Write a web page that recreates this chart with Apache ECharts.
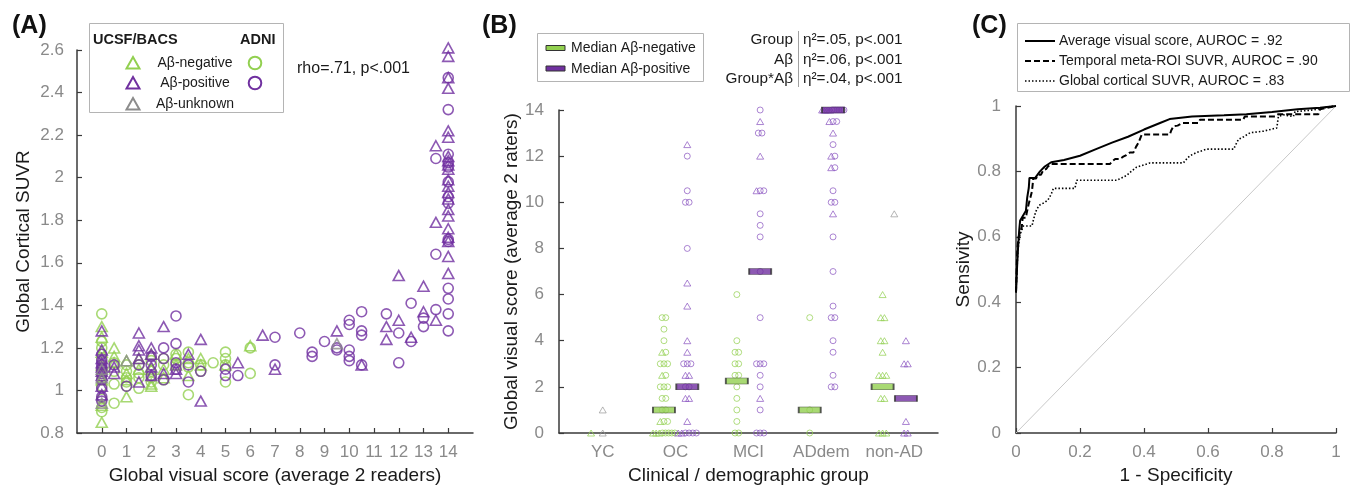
<!DOCTYPE html>
<html><head><meta charset="utf-8">
<script src="https://cdn.jsdelivr.net/npm/echarts@6/dist/echarts.min.js"></script>
<style>html,body{margin:0;padding:0;background:#fff}#c{width:1351px;height:490px}</style>
</head><body><div id="c"></div>
<script>
// ================= DATA =================
// Panel A: [visual score, global cortical SUVR]
const aXTicks = [0,1,2,3,4,5,6,7,8,9,10,11,12,13,14];
const aNegTri = [[0,1.30],[0,1.25],[0,1.18],[0,1.12],[0,1.05],[0,0.93],[0,0.85],[0.5,1.20],[0.5,1.16],[0.5,1.13],[1,1.14],[1,1.08],[1,1.05],[1,0.97],[1.5,1.15],[1.5,1.10],[2,1.17],[2,1.10],[2,1.03],[2,1.02],[2.5,1.10],[2.5,1.06],[3,1.17],[3,1.12],[3.5,1.15],[3.5,1.07],[4,1.15],[4,1.12],[5,1.12],[6,1.21]];
const aNegCirc = [[0,1.36],[0,1.23],[0,1.20],[0,1.15],[0,1.10],[0,1.07],[0,1.02],[0,0.96],[0,0.92],[0,0.90],[0.5,1.13],[0.5,1.09],[0.5,1.03],[0.5,0.94],[1,1.12],[1,1.09],[1,1.06],[1,1.04],[1,1.02],[1.5,1.12],[1.5,1.08],[1.5,1.06],[1.5,1.01],[2,1.14],[2,1.09],[2,1.06],[2,1.04],[2.5,1.15],[2.5,1.12],[2.5,1.05],[3,1.17],[3,1.15],[3,1.12],[3.5,1.18],[3.5,1.13],[3.5,1.11],[3.5,0.98],[4,1.12],[4,1.09],[4.5,1.13],[5,1.18],[5,1.15],[5,1.12],[5,1.04],[6,1.20],[6,1.08]];
const aPosTri = [[0,1.28],[0,1.19],[0,1.15],[0,1.13],[0,1.11],[0,1.09],[0,1.07],[0,1.02],[0,0.98],[0.5,1.11],[0.5,1.08],[1.5,1.27],[1.5,1.21],[1.5,1.19],[1.5,1.15],[1.5,1.04],[2,1.20],[2,1.17],[2,1.11],[2,1.07],[2.5,1.30],[2.5,1.08],[3,1.10],[3,1.08],[3.5,1.17],[4,1.24],[4,0.95],[5.5,1.13],[6.5,1.26],[7,1.10],[9.5,1.28],[10.5,1.12],[11.5,1.30],[11.5,1.24],[12,1.54],[12,1.33],[12.5,1.25],[13,1.49],[13,1.37],[13.5,2.15],[13.5,1.79],[13.5,1.33],[14,2.61],[14,2.57],[14,2.47],[14,2.42],[14,2.22],[14,2.19],[14,2.10],[14,2.08],[14,2.06],[14,2.04],[14,1.99],[14,1.96],[14,1.93],[14,1.90],[14,1.85],[14,1.82],[14,1.76],[14,1.72],[14,1.70],[14,1.63],[14,1.55]];
const aPosCirc = [[0,1.17],[0,1.14],[0,1.12],[0,1.10],[0,1.08],[0,1.05],[0,1.01],[0,0.97],[0,0.95],[0.5,1.12],[1,1.02],[1.5,1.12],[2,1.16],[2,1.12],[2,1.07],[2.5,1.20],[2.5,1.15],[2.5,1.05],[3,1.35],[3,1.22],[3,1.13],[3,1.10],[3.5,1.12],[3.5,1.04],[4,1.09],[5,1.10],[5,1.07],[5.5,1.07],[7,1.25],[7,1.12],[8,1.27],[8.5,1.18],[8.5,1.16],[9,1.23],[9.5,1.20],[9.5,1.19],[10,1.33],[10,1.31],[10,1.19],[10,1.16],[10,1.14],[10.5,1.37],[10.5,1.28],[10.5,1.26],[10.5,1.12],[11.5,1.36],[12,1.27],[12,1.13],[12.5,1.41],[12.5,1.23],[13,1.34],[13,1.30],[13.5,2.09],[13.5,1.64],[13.5,1.38],[14,2.47],[14,2.32],[14,2.11],[14,2.07],[14,2.05],[14,1.98],[14,1.91],[14,1.88],[14,1.71],[14,1.70],[14,1.48],[14,1.43],[14,1.36],[14,1.28]];
const aUnkTri = [[0,1.10],[0,1.06],[0,0.94],[1,1.14],[9.5,1.22]];

// Panel B: [group number (1..5), visual score]
const bCats = ['YC','OC','MCI','ADdem','non-AD'];
const bCatPos = [1,2,3,4,5];
const bNegTri = [[1,0],[2,3.5],[2,2.5],[2,0.5],[2,0],[2,0],[2,0],[5,6],[5,5],[5,5],[5,4],[5,4],[5,3.5],[5,2.5],[5,2.5],[5,2.5],[5,1.5],[5,1.5],[5,0],[5,0],[5,0]];
const bNegCirc = [[2,5],[2,5],[2,4.5],[2,4],[2,3.5],[2,3],[2,3],[2,3],[2,2.5],[2,2],[2,2],[2,2],[2,1.5],[2,1.5],[2,1],[2,1],[2,0.5],[2,0.5],[2,0],[2,0],[2,0],[2,0],[2,0],[3,6],[3,4],[3,3.5],[3,3.5],[3,3],[3,3],[3,2.5],[3,2.5],[3,2],[3,1.5],[3,1],[3,0.5],[3,0],[3,0],[4,5],[4,1],[4,0]];
const bPosTri = [[2,12.5],[2,6.5],[2,5.5],[2,4],[2,3.5],[2,2.5],[2,2.5],[2,1.5],[2,1.5],[2,0.5],[2,0],[2,0],[3,13.5],[3,12],[3,10.5],[3,1.5],[4,14],[4,14],[4,14],[4,14],[4,14],[4,14],[4,13.5],[4,13],[4,12],[4,11.5],[4,9.5],[5,4],[5,3],[5,3],[5,0.5],[5,0],[5,0]];
const bPosCirc = [[2,12],[2,10.5],[2,10],[2,10],[2,8],[2,3],[2,3],[2,3],[2,2],[2,2],[2,0],[2,0],[2,0],[2,0],[3,14],[3,13],[3,13],[3,10.5],[3,10.5],[3,9.5],[3,9],[3,8.5],[3,7],[3,5],[3,3],[3,3],[3,3],[3,2.5],[3,2],[3,1],[3,0],[3,0],[3,0],[4,14],[4,14],[4,14],[4,14],[4,14],[4,14],[4,14],[4,14],[4,13.5],[4,13.5],[4,12.5],[4,12],[4,11.5],[4,10.5],[4,10],[4,10],[4,8.5],[4,7],[4,5.5],[4,5],[4,5],[4,4],[4,3.5],[4,2.5],[4,2],[4,2]];
const bUnkTri = [[1,1],[1,0],[5,9.5]];
const bMedNeg = [null,1,2.25,1,2];
const bMedPos = [null,2,7,14,1.5];

// Panel C: ROC curves [1 - specificity, sensitivity]
const rocVisual = [[0,0.43],[0.003,0.5],[0.006,0.56],[0.01,0.62],[0.013,0.65],[0.025,0.67],[0.031,0.68],[0.035,0.72],[0.04,0.75],[0.042,0.78],[0.06,0.78],[0.075,0.8],[0.09,0.815],[0.11,0.828],[0.15,0.835],[0.2,0.848],[0.25,0.868],[0.3,0.888],[0.35,0.906],[0.4,0.928],[0.45,0.948],[0.48,0.96],[0.55,0.968],[0.65,0.972],[0.72,0.975],[0.8,0.982],[0.88,0.99],[0.95,0.995],[1,1]];
const rocTemporal = [[0,0.43],[0.002,0.5],[0.004,0.56],[0.008,0.6],[0.015,0.62],[0.018,0.63],[0.021,0.658],[0.031,0.658],[0.033,0.67],[0.039,0.698],[0.045,0.72],[0.05,0.74],[0.054,0.778],[0.062,0.778],[0.07,0.79],[0.078,0.79],[0.085,0.803],[0.095,0.808],[0.1,0.815],[0.11,0.823],[0.294,0.823],[0.3,0.83],[0.31,0.838],[0.325,0.838],[0.335,0.845],[0.345,0.85],[0.356,0.858],[0.367,0.858],[0.375,0.875],[0.383,0.888],[0.393,0.913],[0.481,0.913],[0.485,0.925],[0.492,0.938],[0.505,0.94],[0.52,0.948],[0.57,0.948],[0.575,0.958],[0.71,0.958],[0.715,0.968],[0.81,0.968],[0.82,0.975],[0.945,0.975],[0.95,0.99],[1,1]];
const rocGlobal = [[0,0.43],[0.003,0.5],[0.006,0.56],[0.0125,0.607],[0.018,0.62],[0.023,0.633],[0.05,0.633],[0.054,0.65],[0.059,0.668],[0.065,0.685],[0.075,0.698],[0.09,0.705],[0.1,0.713],[0.11,0.73],[0.117,0.748],[0.184,0.748],[0.19,0.773],[0.315,0.773],[0.33,0.78],[0.346,0.788],[0.36,0.8],[0.377,0.813],[0.4,0.82],[0.419,0.826],[0.523,0.826],[0.535,0.84],[0.544,0.848],[0.565,0.858],[0.596,0.868],[0.68,0.868],[0.695,0.898],[0.71,0.905],[0.731,0.918],[0.773,0.923],[0.815,0.933],[0.82,0.968],[0.836,0.973],[0.867,0.968],[0.872,0.983],[0.93,0.988],[0.98,0.998],[1,1]];
const rocChance = [[0,0],[1,1]];

// ================= STYLE =================
const FONT = '"Liberation Sans", Arial, sans-serif';
const GREEN = '#92d050', PURPLE = '#7030a0', GRAY = '#8c8c8c';
const AXC = '#3a3a3a', LABC = '#8a8a8a', NAMEC = '#1a1a1a';

function axisBase(extra) {
  return Object.assign({
    type: 'value',
    axisLine: { show: true, onZero: false, lineStyle: { color: AXC, width: 1.5 } },
    axisTick: { show: true, inside: true, length: 5, lineStyle: { color: AXC, width: 1.2 } },
    axisLabel: { color: LABC, fontSize: 17, fontFamily: FONT, margin: 12 },
    splitLine: { show: false },
    nameLocation: 'middle',
    nameTextStyle: { color: NAMEC, fontSize: 19, fontFamily: FONT }
  }, extra);
}

function hollow(name, data, sym, size, color, bw, xi, z) {
  return { type: 'scatter', name, data, symbol: sym, symbolSize: size, clip: false,
    xAxisIndex: xi, yAxisIndex: xi, z: z || 2, silent: true,
    itemStyle: { color: 'rgba(0,0,0,0)', borderColor: color, borderWidth: bw } };
}

// jitter points sharing the same (group, value) within one side of a group
function jitterSide(lists, side) {
  const groups = {};
  lists.forEach((d, si) => d.forEach((p, pi) => {
    const k = p[0] + '|' + p[1];
    (groups[k] = groups[k] || []).push([si, pi]);
  }));
  const out = lists.map(d => d.map(() => null));
  Object.keys(groups).forEach(k => {
    const list = groups[k], n = list.length;
    const step = n > 1 ? Math.min(0.05, 0.3 / (n - 1)) : 0;
    list.forEach((ref, i) => {
      const p = lists[ref[0]][ref[1]];
      out[ref[0]][ref[1]] = [p[0] + side + (i - (n - 1) / 2) * step, p[1]];
    });
  });
  return out;
}
const SIDE = 0.16;
const [jNegTri, jNegCirc] = jitterSide([bNegTri, bNegCirc], -SIDE);
const [jPosTri, jPosCirc] = jitterSide([bPosTri, bPosCirc], SIDE);
const [jUnkTri] = jitterSide([bUnkTri], 0);
const medNeg = [], medPos = [];
bCatPos.forEach((g, i) => {
  if (bMedNeg[i] != null) medNeg.push([g - SIDE, bMedNeg[i]]);
  if (bMedPos[i] != null) medPos.push([g + SIDE, bMedPos[i]]);
});

// ================= GRAPHICS (legends, annotations) =================
function txt(text, x, y, size, opts) {
  opts = opts || {};
  return { type: 'text', x, y, silent: true, z: 100, style: {
    text, fontSize: size, fontFamily: FONT, fontWeight: opts.bold ? 'bold' : 'normal',
    fill: opts.color || NAMEC, textAlign: opts.align || 'left', align: opts.align || 'left',
    textVerticalAlign: 'middle', verticalAlign: 'middle' } };
}
function tri(cx, cy, color) {
  return { type: 'polygon', silent: true, z: 100, shape: { points: [[cx - 6.5, cy + 5.5], [cx + 6.5, cy + 5.5], [cx, cy - 6]] },
    style: { fill: 'none', stroke: color, lineWidth: 2 } };
}
function circ(cx, cy, color) {
  return { type: 'circle', silent: true, z: 100, shape: { cx, cy, r: 6.3 }, style: { fill: 'none', stroke: color, lineWidth: 2 } };
}
function box(x, y, w, h) {
  return { type: 'rect', silent: true, z: 99, shape: { x, y, width: w, height: h }, style: { fill: '#fff', stroke: '#b4b4b4', lineWidth: 1 } };
}
function seg(x1, y1, x2, y2, color, w, dash) {
  return { type: 'line', silent: true, z: 100, shape: { x1, y1, x2, y2 }, style: { stroke: color, lineWidth: w, lineDash: dash || null } };
}

const graphics = [
  txt('(A)', 12, 26, 25, { bold: true, color: '#111' }),
  txt('(B)', 482, 26, 25, { bold: true, color: '#111' }),
  txt('(C)', 972, 26, 25, { bold: true, color: '#111' }),
  // legend A
  box(89.5, 23.5, 194, 89),
  txt('UCSF/BACS', 93, 40, 14.5, { bold: true }),
  txt('ADNI', 240, 40, 14.5, { bold: true }),
  tri(133, 63, GREEN), txt('A\u03b2-negative', 195, 63, 14, { align: 'center' }), circ(255, 63, GREEN),
  tri(133, 83, PURPLE), txt('A\u03b2-positive', 195, 83, 14, { align: 'center' }), circ(255, 83, PURPLE),
  tri(133, 104, GRAY), txt('A\u03b2-unknown', 195, 104, 14, { align: 'center' }),
  txt('rho=.71, p<.001', 297, 69, 16),
  // legend B
  box(537.5, 33.5, 166, 48),
  { type: 'rect', silent: true, z: 100, shape: { x: 546, y: 45.5, width: 19, height: 5 }, style: { fill: GREEN, stroke: '#333', lineWidth: 1 } },
  txt('Median A\u03b2-negative', 571, 48, 14),
  { type: 'rect', silent: true, z: 100, shape: { x: 546, y: 66, width: 19, height: 5 }, style: { fill: PURPLE, stroke: '#333', lineWidth: 1 } },
  txt('Median A\u03b2-positive', 571, 69, 14),
  // stats B
  txt('Group', 793, 40, 15.3, { align: 'right' }),
  txt('A\u03b2', 793, 60, 15.3, { align: 'right' }),
  txt('Group*A\u03b2', 793, 79, 15.3, { align: 'right' }),
  seg(798.5, 31, 798.5, 87, '#a0a0a0', 1),
  txt('\u03b7\u00b2=.05, p<.001', 803, 40, 15.3),
  txt('\u03b7\u00b2=.06, p<.001', 803, 60, 15.3),
  txt('\u03b7\u00b2=.04, p<.001', 803, 79, 15.3),
  // legend C
  box(1017.5, 23.5, 332, 68),
  seg(1025, 41, 1055, 41, '#000', 2),
  txt('Average visual score, AUROC = .92', 1059, 41, 14),
  seg(1025, 61, 1055, 61, '#000', 2, [6, 3]),
  txt('Temporal meta-ROI SUVR, AUROC = .90', 1059, 61, 14),
  seg(1025, 81, 1055, 81, '#000', 1.5, [1.5, 2]),
  txt('Global cortical SUVR, AUROC = .83', 1059, 81, 14)
];

// ================= OPTION =================
const option = {
  animation: false,
  backgroundColor: '#fff',
  grid: [
    { left: 77, top: 50, width: 396, height: 389 },
    { left: 559, top: 110, width: 379, height: 329 },
    { left: 1016, top: 106, width: 320, height: 333 }
  ],
  xAxis: [
    axisBase({ gridIndex: 0, min: -1, max: 15, name: 'Global visual score (average 2 readers)', nameGap: 33,
      axisTick: { show: true, inside: true, length: 5, customValues: aXTicks, lineStyle: { color: AXC, width: 1.2 } },
      axisLabel: { color: LABC, fontSize: 17, fontFamily: FONT, margin: 11, customValues: aXTicks } }),
    axisBase({ gridIndex: 1, min: 0.4, max: 5.6, name: 'Clinical / demographic group', nameGap: 33,
      axisTick: { show: false },
      axisLabel: { color: LABC, fontSize: 17, fontFamily: FONT, margin: 11, customValues: bCatPos,
        formatter: v => bCats[Math.round(v) - 1] || '' } }),
    axisBase({ gridIndex: 2, min: 0, max: 1, interval: 0.2, name: '1 - Specificity', nameGap: 33,
      axisLabel: { color: LABC, fontSize: 17, fontFamily: FONT, margin: 11 } })
  ],
  yAxis: [
    axisBase({ gridIndex: 0, min: 0.8, max: 2.6, interval: 0.2, name: 'Global Cortical SUVR', nameGap: 44,
      axisLabel: { color: LABC, fontSize: 17, fontFamily: FONT, margin: 13 } }),
    axisBase({ gridIndex: 1, min: 0, max: 14, interval: 2, name: 'Global visual score (average 2 raters)', nameGap: 38,
      axisLabel: { color: LABC, fontSize: 17, fontFamily: FONT, margin: 15 } }),
    axisBase({ gridIndex: 2, min: 0, max: 1, interval: 0.2, name: 'Sensivity', nameGap: 40,
      axisLabel: { color: LABC, fontSize: 17, fontFamily: FONT, margin: 15 } })
  ],
  series: [
    hollow('A neg circ', aNegCirc, 'circle', 10, GREEN, 1.6, 0),
    hollow('A neg tri', aNegTri, 'triangle', [11, 10], GREEN, 1.6, 0),
    hollow('A pos circ', aPosCirc, 'circle', 10, PURPLE, 1.6, 0, 3),
    hollow('A pos tri', aPosTri, 'triangle', [11, 10], PURPLE, 1.6, 0, 3),
    hollow('A unk tri', aUnkTri, 'triangle', [11, 10], GRAY, 1.6, 0, 4),

    hollow('B neg circ', jNegCirc, 'circle', 6, GREEN, 0.9, 1),
    hollow('B neg tri', jNegTri, 'triangle', [7, 6], GREEN, 0.9, 1),
    hollow('B pos circ', jPosCirc, 'circle', 6, '#8a55c0', 0.9, 1),
    hollow('B pos tri', jPosTri, 'triangle', [7, 6], '#8a55c0', 0.9, 1),
    hollow('B unk tri', jUnkTri, 'triangle', [7, 6], '#999', 0.9, 1),
    { type: 'scatter', name: 'Median neg', data: medNeg, symbol: 'rect', symbolSize: [22, 6], clip: false, z: 6,
      xAxisIndex: 1, yAxisIndex: 1, silent: true, itemStyle: { color: GREEN, borderColor: '#333', borderWidth: 1 } },
    { type: 'scatter', name: 'Median pos', data: medPos, symbol: 'rect', symbolSize: [22, 6], clip: false, z: 6,
      xAxisIndex: 1, yAxisIndex: 1, silent: true, itemStyle: { color: PURPLE, borderColor: '#333', borderWidth: 1 } },

    { type: 'line', name: 'chance', data: rocChance, xAxisIndex: 2, yAxisIndex: 2, symbol: 'none', silent: true, z: 1,
      lineStyle: { color: '#c8c8c8', width: 1 } },
    { type: 'line', name: 'Global cortical SUVR', data: rocGlobal, xAxisIndex: 2, yAxisIndex: 2, symbol: 'none', silent: true,
      lineStyle: { color: '#000', width: 1.6, type: [1.5, 2] } },
    { type: 'line', name: 'Temporal meta-ROI SUVR', data: rocTemporal, xAxisIndex: 2, yAxisIndex: 2, symbol: 'none', silent: true,
      lineStyle: { color: '#000', width: 2, type: [6, 3] } },
    { type: 'line', name: 'Average visual score', data: rocVisual, xAxisIndex: 2, yAxisIndex: 2, symbol: 'none', silent: true,
      lineStyle: { color: '#000', width: 2 } }
  ],
  graphic: graphics
};
const chart = echarts.init(document.getElementById('c'), null, { renderer: 'canvas' });
chart.setOption(option);
</script>
</body></html>
